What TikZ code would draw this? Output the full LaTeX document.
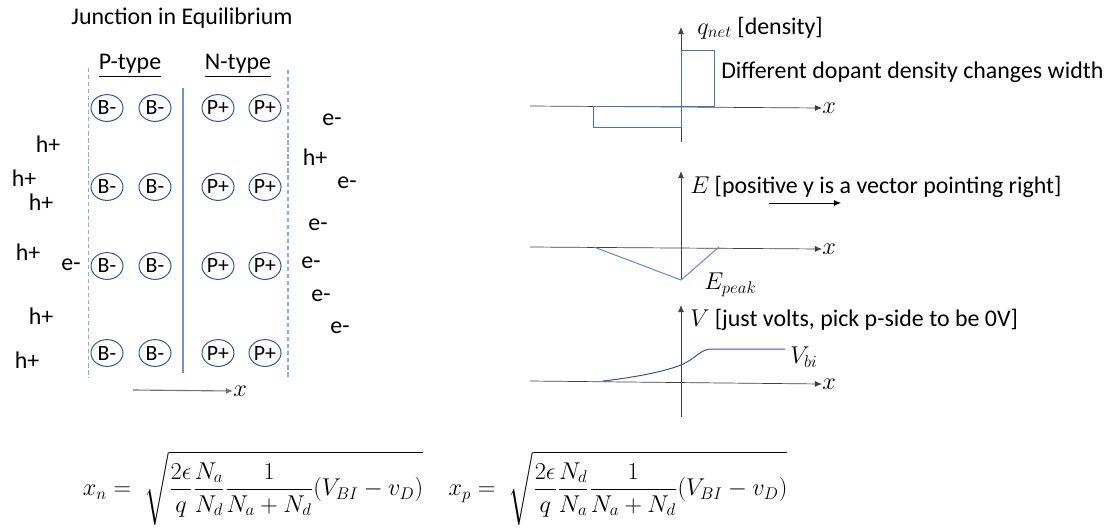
\documentclass[tikz,border=0pt]{standalone}
\usepackage{amsmath}
\usepackage{fontspec}
\setmainfont{Carlito}
\definecolor{pnblue}{HTML}{2F5597}
\definecolor{pnlight}{HTML}{8FAADC}
\definecolor{pnmid}{HTML}{7393CC}
\definecolor{pnline}{HTML}{4472C4}
\usetikzlibrary{arrows.meta,positioning,shapes.geometric}

\begin{document}
\begin{tikzpicture}[x=0.025cm,y=-0.025cm,
  lbl/.style={font=\fontsize{17}{19}\selectfont,inner sep=0pt},
  eqn/.style={font=\fontsize{16.5}{18}\selectfont,inner sep=0pt},
  ion/.style={ellipse,draw=pnblue,line width=0.7pt,minimum width=0.8cm,
    minimum height=0.67cm,inner sep=0pt,font=\fontsize{15.5}{17}\selectfont},
  ax/.style={-{Latex[length=1.8mm,width=1.5mm]},line width=0.5pt,black!75},
  bnd/.style={pnlight,line width=0.8pt,dash pattern=on 3pt off 2pt},
  cur/.style={pnline,line width=0.7pt}]
\useasboundingbox (0,0) rectangle (1110,527);
% the junction with its fixed ions
\node[lbl] (title) at (182,18) {Junction in Equilibrium};
\node[lbl] (ptype) at (130,66) {\underline{P-type}};
\node[lbl] (ntype) at (238,66) {\underline{N-type}};
\coordinate (lt) at (88.7,68);  \coordinate (lb) at (88.7,378);
\coordinate (rt) at (288,70);   \coordinate (rb) at (288,378);
\coordinate (mt) at (183,88);   \coordinate (mb) at (183,373);
\draw[bnd] (lt) -- (lb);
\draw[bnd] (rt) -- (rb);
\draw[pnmid,line width=0.8pt] (mt) -- (mb);
\foreach \r/\y in {1/108,2/187,3/266,4/353}{
  \node[ion] (b1\r) at (107,\y) {B-};
  \node[ion] (b2\r) at (155,\y) {B-};
  \node[ion] (p1\r) at (218,\y) {P+};
  \node[ion] (p2\r) at (265,\y) {P+};
}
% free carriers outside
\foreach \n/\x/\y/\t in {h1/48/144/h+,h2/24/178/h+,h3/41/202/h+,h4/28/252/h+,
    e1/71/265/e-,h5/41/316/h+,h6/27/360/h+,
    e2/332/120/e-,h7/315/157/h+,e3/347/183/e-,e4/318/225/e-,
    e5/311/263/e-,e6/321/296/e-,e7/340/328/e-}
  \node[lbl] (\n) at (\x,\y) {\t};
\coordinate (xa) at (133,390);
\node[lbl,anchor=west] (xl) at (233,391) {$x$};
\draw[-{Latex[length=1.8mm,width=1.5mm]},black!55,line width=0.8pt] (xa) -- (xl.west);
% charge density
\coordinate (qo) at (681,142);
\node[lbl,anchor=west] (ql) at (697,28) {$q_{net}$ [density]};
\coordinate (qt) at (681,27);
\draw[ax] (qo) -- (qt);
\coordinate (qx0) at (530,106);
\node[lbl,anchor=west] (qxl) at (822,108) {$x$};
\draw[ax] (qx0) -- (qxl.west);
\coordinate (na1) at (593,106); \coordinate (na2) at (681,127);
\coordinate (nd1) at (681,50);  \coordinate (nd2) at (714,106);
\draw[cur] (na1) rectangle (na2);
\draw[cur] (nd1) rectangle (nd2);
\node[lbl,anchor=west] (qnote) at (721,72) {Different dopant density changes width};
% electric field
\coordinate (eo) at (681,280);
\coordinate (et) at (681,171);
\draw[ax] (eo) -- (et);
\node[lbl,anchor=west] (el) at (690,187) {$E$ [positive y is a vector pointing right]};
\coordinate (ea) at (769,203); \coordinate (eb) at (841,203);
\draw[-{Latex[length=1.8mm,width=1.5mm]},line width=0.5pt] (ea) -- (eb);
\coordinate (ex0) at (530,247);
\node[lbl,anchor=west] (exl) at (822,249) {$x$};
\draw[ax] (ex0) -- (exl.west);
\coordinate (e1) at (594,247); \coordinate (e2) at (719,247);
\draw[cur,pnline!85] (e1) -- (eo) -- (e2);
\node[lbl,anchor=west] (ep) at (704,285) {$E_{peak}$};
% potential
\coordinate (vo) at (681,417);
\coordinate (vt) at (681,305);
\draw[ax] (vo) -- (vt);
\node[lbl,anchor=west] (vl) at (690,320) {$V$ [just volts, pick p-side to be 0V]};
\coordinate (vx0) at (530,381);
\node[lbl,anchor=west] (vxl) at (822,384) {$x$};
\draw[ax] (vx0) -- (vxl.west);
\coordinate (v1) at (603,381); \coordinate (v2) at (681,365);
\coordinate (v3) at (712,349); \coordinate (v4) at (785,349);
\draw[cur,pnblue] (v1) .. controls (638,377) and (666,371) .. (v2)
  .. controls (697,358) and (700,349) .. (v3) -- (v4);
\node[lbl,anchor=west] (vbi) at (790,357) {$V_{bi}$};
% depletion widths
\node[eqn] (xn) at (253,488) {$x_n=\;\sqrt{\dfrac{\mathstrut 2\epsilon}{\mathstrut q}\dfrac{N_a}{N_d}\dfrac{1}{N_a+N_d}(V_{BI}-v_D)}$};
\node[eqn] (xp) at (618,488) {$x_p=\;\sqrt{\dfrac{\mathstrut 2\epsilon}{\mathstrut q}\dfrac{N_d}{N_a}\dfrac{1}{N_a+N_d}(V_{BI}-v_D)}$};
\end{tikzpicture}
\end{document}
